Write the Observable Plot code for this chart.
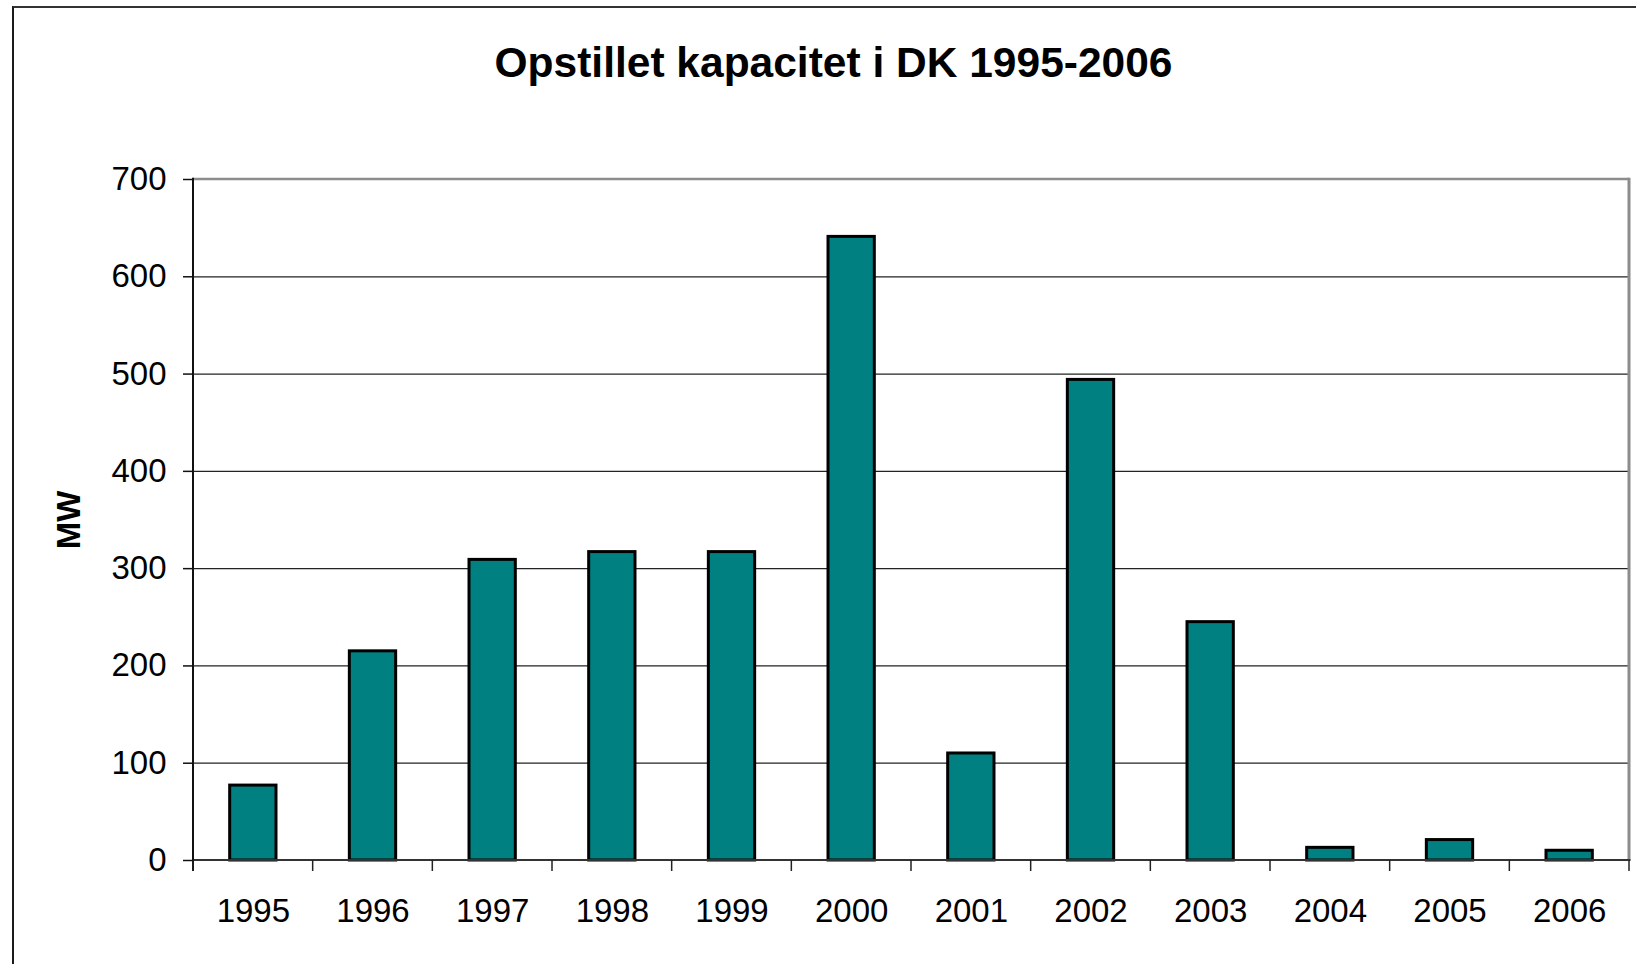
<!DOCTYPE html>
<html>
<head>
<meta charset="utf-8">
<script src="https://cdn.jsdelivr.net/npm/d3@7"></script>
<script src="https://cdn.jsdelivr.net/npm/@observablehq/plot@0.6"></script>
<style>
html, body { margin: 0; padding: 0; background: #fff; overflow: hidden; }
#frame { position: absolute; left: 12px; top: 6px; width: 1700px; height: 1100px;
  border-left: 2px solid #1a1a1a; border-top: 2px solid #333; box-sizing: border-box; }
#chart { position: absolute; left: 0; top: 0; }
</style>
</head>
<body>
<div id="frame"></div>
<div id="chart"></div>
<script>
const years = ["1995","1996","1997","1998","1999","2000","2001","2002","2003","2004","2005","2006"];
const capacityMW = [77, 215, 309, 317, 317, 641, 110, 494, 245, 13, 21, 10];
const yTicks = [0, 100, 200, 300, 400, 500, 600, 700];
const gridValues = [100, 200, 300, 400, 500, 600];
const titleText = "Opstillet kapacitet i DK 1995-2006";
const yLabelText = "MW";

const data = years.map((year, i) => ({year, mw: capacityMW[i]}));
const padInner = 0.613;
const FONT = "'Liberation Sans', Arial, Helvetica, sans-serif";

function frameLines(index, scales, values, dimensions) {
  const {y} = scales;
  const {marginLeft, marginRight, width} = dimensions;
  const left = marginLeft, right = width - marginRight;
  const top = y(700), bottom = y(0);
  const g = d3.create("svg:g");
  g.append("line").attr("x1", left).attr("x2", right).attr("y1", top).attr("y2", top)
    .attr("stroke", "#8c8c8c").attr("stroke-width", 2.5);
  g.append("line").attr("x1", right).attr("x2", right).attr("y1", top - 1.25).attr("y2", bottom)
    .attr("stroke", "#8c8c8c").attr("stroke-width", 3);
  return g.node();
}

function axisLines(index, scales, values, dimensions) {
  const {x, y} = scales;
  const {marginLeft, marginRight, width} = dimensions;
  const left = marginLeft, right = width - marginRight;
  const top = y(700), bottom = y(0);
  const step = x(years[1]) - x(years[0]);
  const off = step * padInner / 2;
  const bounds = years.map(d => x(d) - off).concat([x(years[years.length - 1]) + step - off]);
  const g = d3.create("svg:g");
  g.append("line").attr("x1", left).attr("x2", right + 1.5).attr("y1", bottom).attr("y2", bottom)
    .attr("stroke", "#333").attr("stroke-width", 2);
  g.append("line").attr("x1", left).attr("x2", left).attr("y1", top - 1.25).attr("y2", bottom + 11)
    .attr("stroke", "#111").attr("stroke-width", 2);
  for (const b of bounds) {
    g.append("line").attr("x1", b).attr("x2", b).attr("y1", bottom).attr("y2", bottom + 11)
      .attr("stroke", "#222").attr("stroke-width", 1.5);
  }
  return g.node();
}

const chart = Plot.plot({
  width: 1636,
  height: 964,
  marginLeft: 193,
  marginRight: 7,
  marginTop: 179,
  marginBottom: 104,
  style: {fontFamily: FONT, background: "transparent", overflow: "visible", color: "#000"},
  x: {domain: years, paddingInner: padInner, paddingOuter: padInner / 2, round: false},
  y: {domain: [0, 700]},
  marks: [
    Plot.ruleY(gridValues, {stroke: "#222", strokeWidth: 1.3}),
    frameLines,
    Plot.barY(data, {x: "year", y: "mw", fill: "#008080", stroke: "#000", strokeWidth: 3}),
    axisLines,
    Plot.axisY({ticks: yTicks, tickSize: 10, tickPadding: 17, fontSize: 33, stroke: "#111", strokeWidth: 1.5, label: null}),
    Plot.axisX({tickSize: 0, tickPadding: 38, fontSize: 33, label: null}),
    Plot.text([yLabelText], {frameAnchor: "left", dx: -124, rotate: -90, textAnchor: "middle", lineAnchor: "middle", fontSize: 33, fontWeight: "bold", fill: "#000"}),
    Plot.text([titleText], {frameAnchor: "top", dx: -78, dy: -116, textAnchor: "middle", lineAnchor: "middle", fontSize: 42.5, fontWeight: "bold", fill: "#000"})
  ]
});
document.getElementById("chart").appendChild(chart);
</script>
</body>
</html>
